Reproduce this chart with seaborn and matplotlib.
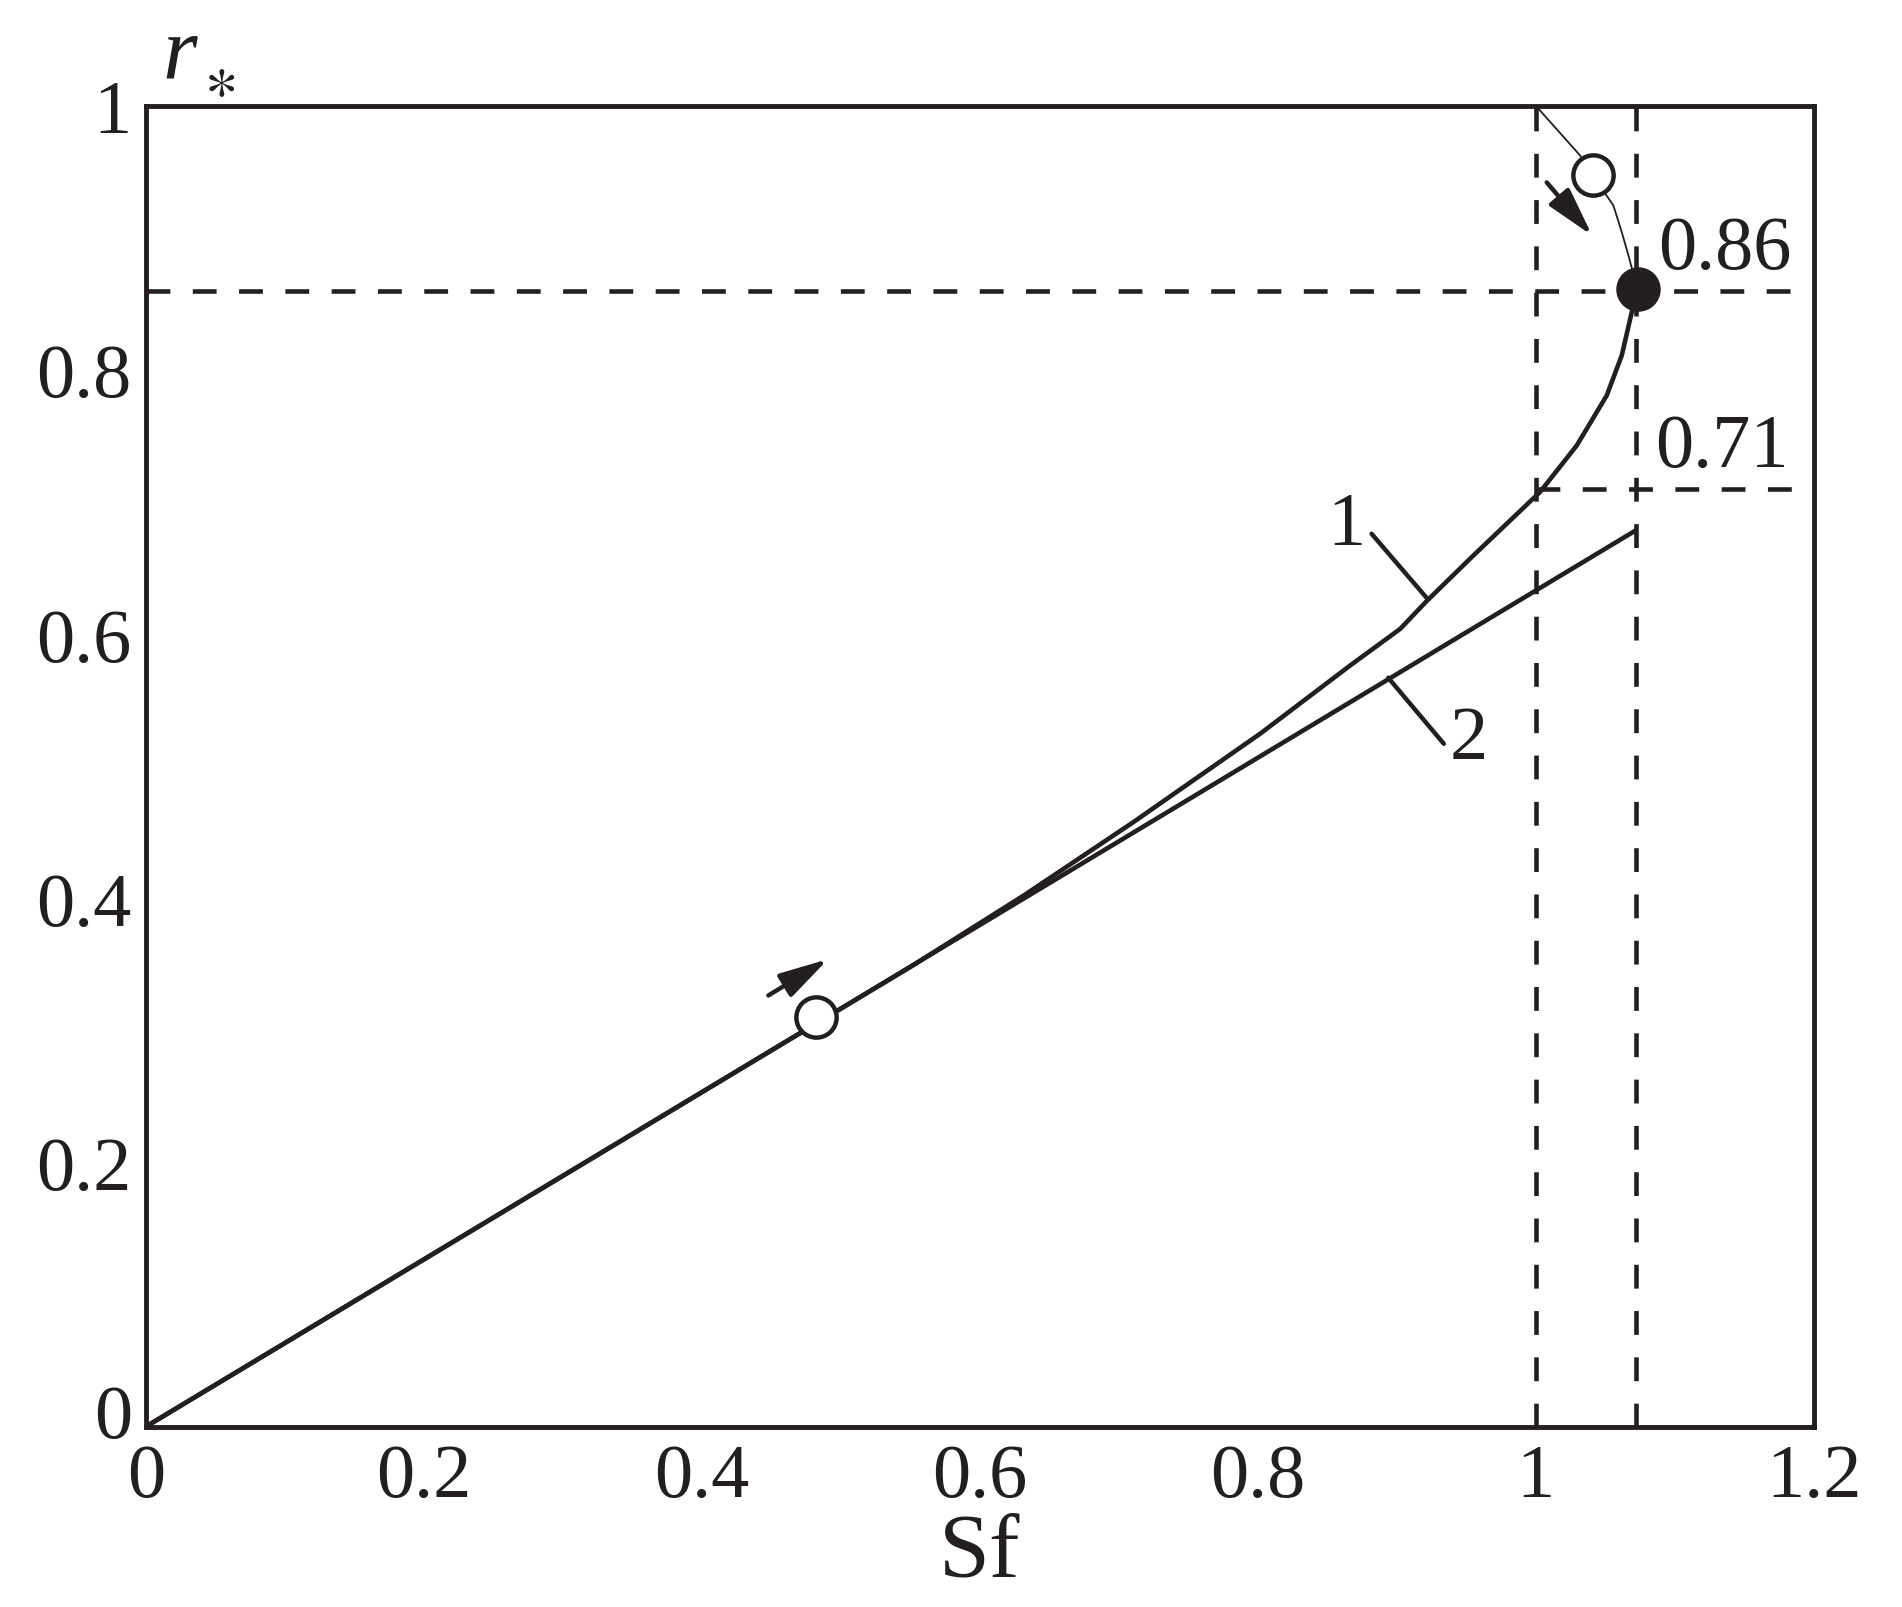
import seaborn as sns
import matplotlib.pyplot as plt
from matplotlib.transforms import ScaledTranslation

# values
sf_curve1 = [0, 0.482, 0.55, 0.6315, 0.7106, 0.8018, 0.8666, 0.9026, 0.9216, 0.9553,
             1.0032, 1.0296, 1.0512, 1.062, 1.0692, 1.0734]
r_curve1 = [0, 0.305, 0.348, 0.402, 0.4577, 0.5246, 0.5763, 0.604, 0.625, 0.6596,
            0.7076, 0.7428, 0.7807, 0.811, 0.8438, 0.861]
sf_branch = [1.0734, 1.0668, 1.062, 1.056, 1.041, 1.032, 1.0032, 1.0]
r_branch = [0.861, 0.8867, 0.9044, 0.9245, 0.9476, 0.9624, 0.9964, 1.0]
sf_curve2 = [0, 1.072]
r_curve2 = [0, 0.6785]
open_pts_sf = [0.482, 1.041]
open_pts_r = [0.310, 0.9476]
crit_sf = 1.0734
crit_r = 0.861
sf_marks = [1.0, 1.072]
r_marks = [0.86, 0.71]
xticks = [0, 0.2, 0.4, 0.6, 0.8, 1.0, 1.2]
xtick_labels = ['0', '0.2', '0.4', '0.6', '0.8', '1', '1.2']
yticks = [0, 0.2, 0.4, 0.6, 0.8, 1.0]
ytick_labels = ['0', '0.2', '0.4', '0.6', '0.8', '1']

sns.set_theme(style='white')
plt.rcParams['font.family'] = ['Liberation Serif', 'DejaVu Serif']
plt.rcParams['mathtext.fontset'] = 'stix'

ink = '#231f20'
dash = (0, (5.2, 4.9))

fig = plt.figure(figsize=(19.02, 16.08), dpi=100)
ax = fig.add_axes([0.0766, 0.1121, 0.8769, 0.8215])

# dashed guide lines
ax.axvline(sf_marks[0], color=ink, lw=3.3, ls=dash, zorder=1)
ax.axvline(sf_marks[1], color=ink, lw=3.3, ls=dash, zorder=1)
ax.plot([0, 1.2], [r_marks[0]] * 2, color=ink, lw=3.3, ls=dash, zorder=1)
ax.plot([sf_marks[0], 1.2], [r_marks[1]] * 2, color=ink, lw=3.3, ls=dash, zorder=1)

# curves
sns.lineplot(x=sf_curve2, y=r_curve2, sort=False, estimator=None, color=ink, lw=3.3, ax=ax)
sns.lineplot(x=sf_curve1, y=r_curve1, sort=False, estimator=None, color=ink, lw=3.3, ax=ax)
sns.lineplot(x=sf_branch, y=r_branch, sort=False, estimator=None, color=ink, lw=1.3, ax=ax)

# points
ax.plot(open_pts_sf, open_pts_r, 'o', ms=29, mfc='white', mec=ink, mew=3.2, zorder=5)
ax.plot([crit_sf], [crit_r], 'o', ms=31, mfc=ink, mec=ink, mew=1, zorder=5)

# arrows
arrow = dict(arrowstyle='-|>,head_length=1.5,head_width=0.4', color=ink, lw=3.2,
             mutation_scale=20, shrinkA=0, shrinkB=0)
ax.annotate('', xy=(0.491, 0.354), xytext=(0.448, 0.3265), arrowprops=arrow)
ax.annotate('', xy=(1.0407, 0.9018), xytext=(1.008, 0.942), arrowprops=arrow)

# curve labels with leaders
ax.plot([0.882, 0.922], [0.676, 0.627], color=ink, lw=3.2)
ax.plot([0.894, 0.934], [0.567, 0.517], color=ink, lw=3.2)
ax.text(0.864, 0.682, '1', fontsize=55, color=ink, ha='center', va='center')
ax.text(0.952, 0.520, '2', fontsize=55, color=ink, ha='center', va='center')
ax.text(1.1363, 0.891, '0.86', fontsize=55, color=ink, ha='center', va='center')
ax.text(1.134, 0.741, '0.71', fontsize=55, color=ink, ha='center', va='center')

ax.set_xlim(0, 1.2)
ax.set_ylim(0, 1)
ax.set_xticks(xticks)
ax.set_xticklabels(xtick_labels)
ax.set_yticks(yticks)
ax.set_yticklabels(ytick_labels)
ax.tick_params(direction='in', length=12, width=3.2, color=ink, labelsize=55,
               labelcolor=ink, top=False, right=False)
ax.tick_params(axis='x', pad=12)
ax.tick_params(axis='y', pad=10)
for s in ax.spines.values():
    s.set_linewidth(3.5)
    s.set_color(ink)

# nudge the y "0" label up like the original
lbl = ax.get_yticklabels()[0]
lbl.set_transform(lbl.get_transform() + ScaledTranslation(0, 0.16, fig.dpi_scale_trans))

ax.set_xlabel('Sf', fontsize=66, color=ink, labelpad=0)

# axis name r_* drawn above the y axis
fig.text(162 / 1902, 1 - 78 / 1608, 'r', fontsize=64, fontstyle='italic',
         color=ink, ha='left', va='baseline')
fig.text(220 / 1902, 1 - 82 / 1608, r'$\ast$', fontsize=46, color=ink,
         ha='center', va='center')

fig.savefig('out.png', dpi=100, facecolor='white')
